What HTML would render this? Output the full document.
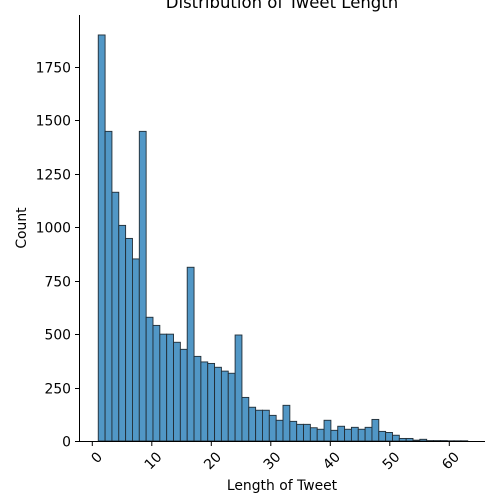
<!DOCTYPE html>
<html><head><meta charset="utf-8"><style>body{margin:0;background:#fff}svg{display:block;font-family:"DejaVu Sans","Liberation Sans",sans-serif}</style></head>
<body>
<svg id="chart" width="500" height="500" viewBox="0 0 500 500">
<text x="282" y="8" font-size="16.5" text-anchor="middle">Distribution of Tweet Length</text>
<g id="bars"></g>
<g id="axes"></g>
<text x="282" y="490" font-size="13.9" text-anchor="middle">Length of Tweet</text>
<text x="26" y="228" font-size="13.9" text-anchor="middle" transform="rotate(-90 26 228)">Count</text>
</svg>
<script>
const counts=[1900,1449,1164,1009,948,852,1449,579,541,500,500,462,429,813,396,370,363,345,327,317,496,204,158,144,144,120,97,167,92,78,78,62,55,97,50,69,55,64,55,64,101,45,40,27,12,12,4,8,2,2,2,1,1,1];
const binStart=[1.0];
const binEnd=[63.1];
const xTicks=[0,10,20,30,40,50,60];
const yTicks=[0,250,500,750,1000,1250,1500,1750];
const NS="http://www.w3.org/2000/svg";
const x=v=>92.3+v*5.95;
const y=v=>441-v*0.2137;
const bars=document.getElementById('bars'),axes=document.getElementById('axes');
const w=(binEnd[0]-binStart[0])/counts.length;
counts.forEach((c,i)=>{
 const r=document.createElementNS(NS,'rect');
 const x0=x(binStart[0]+i*w),x1=x(binStart[0]+(i+1)*w);
 r.setAttribute('x',x0);r.setAttribute('width',x1-x0);
 r.setAttribute('y',y(c));r.setAttribute('height',441-y(c));
 r.setAttribute('fill','#5197c6');r.setAttribute('stroke','#222d35');r.setAttribute('stroke-width','0.9');
 
 
 bars.appendChild(r);
});
function ln(x1,y1,x2,y2,n){const l=document.createElementNS(NS,'line');l.setAttribute('x1',x1);l.setAttribute('y1',y1);l.setAttribute('x2',x2);l.setAttribute('y2',y2);l.setAttribute('stroke','#000');l.setAttribute('stroke-width','1');
 
 
 axes.appendChild(l);}
ln(79.5,15,79.5,441.5,'y-axis-line');
ln(79,441.5,485,441.5,'x-axis-line');
yTicks.forEach(t=>{const yy=Math.round(y(t))+0.5;ln(75,yy,79.5,yy,'y-tick');
 const tx=document.createElementNS(NS,'text');tx.setAttribute('x',71);tx.setAttribute('y',yy+5);tx.setAttribute('font-size','13.9');tx.setAttribute('text-anchor','end');tx.textContent=t;
 
 
 axes.appendChild(tx);});
xTicks.forEach(t=>{const xx=x(t);ln(xx,441.5,xx,446,'x-tick');
 const tx=document.createElementNS(NS,'text');tx.setAttribute('x',xx+4);tx.setAttribute('y',451);tx.setAttribute('font-size','13.9');tx.setAttribute('text-anchor','end');
 tx.setAttribute('transform','rotate(-45 '+(xx+4)+' 451)');tx.setAttribute('dominant-baseline','hanging');tx.textContent=t;
 
 
 axes.appendChild(tx);});
</script>
</body></html>
